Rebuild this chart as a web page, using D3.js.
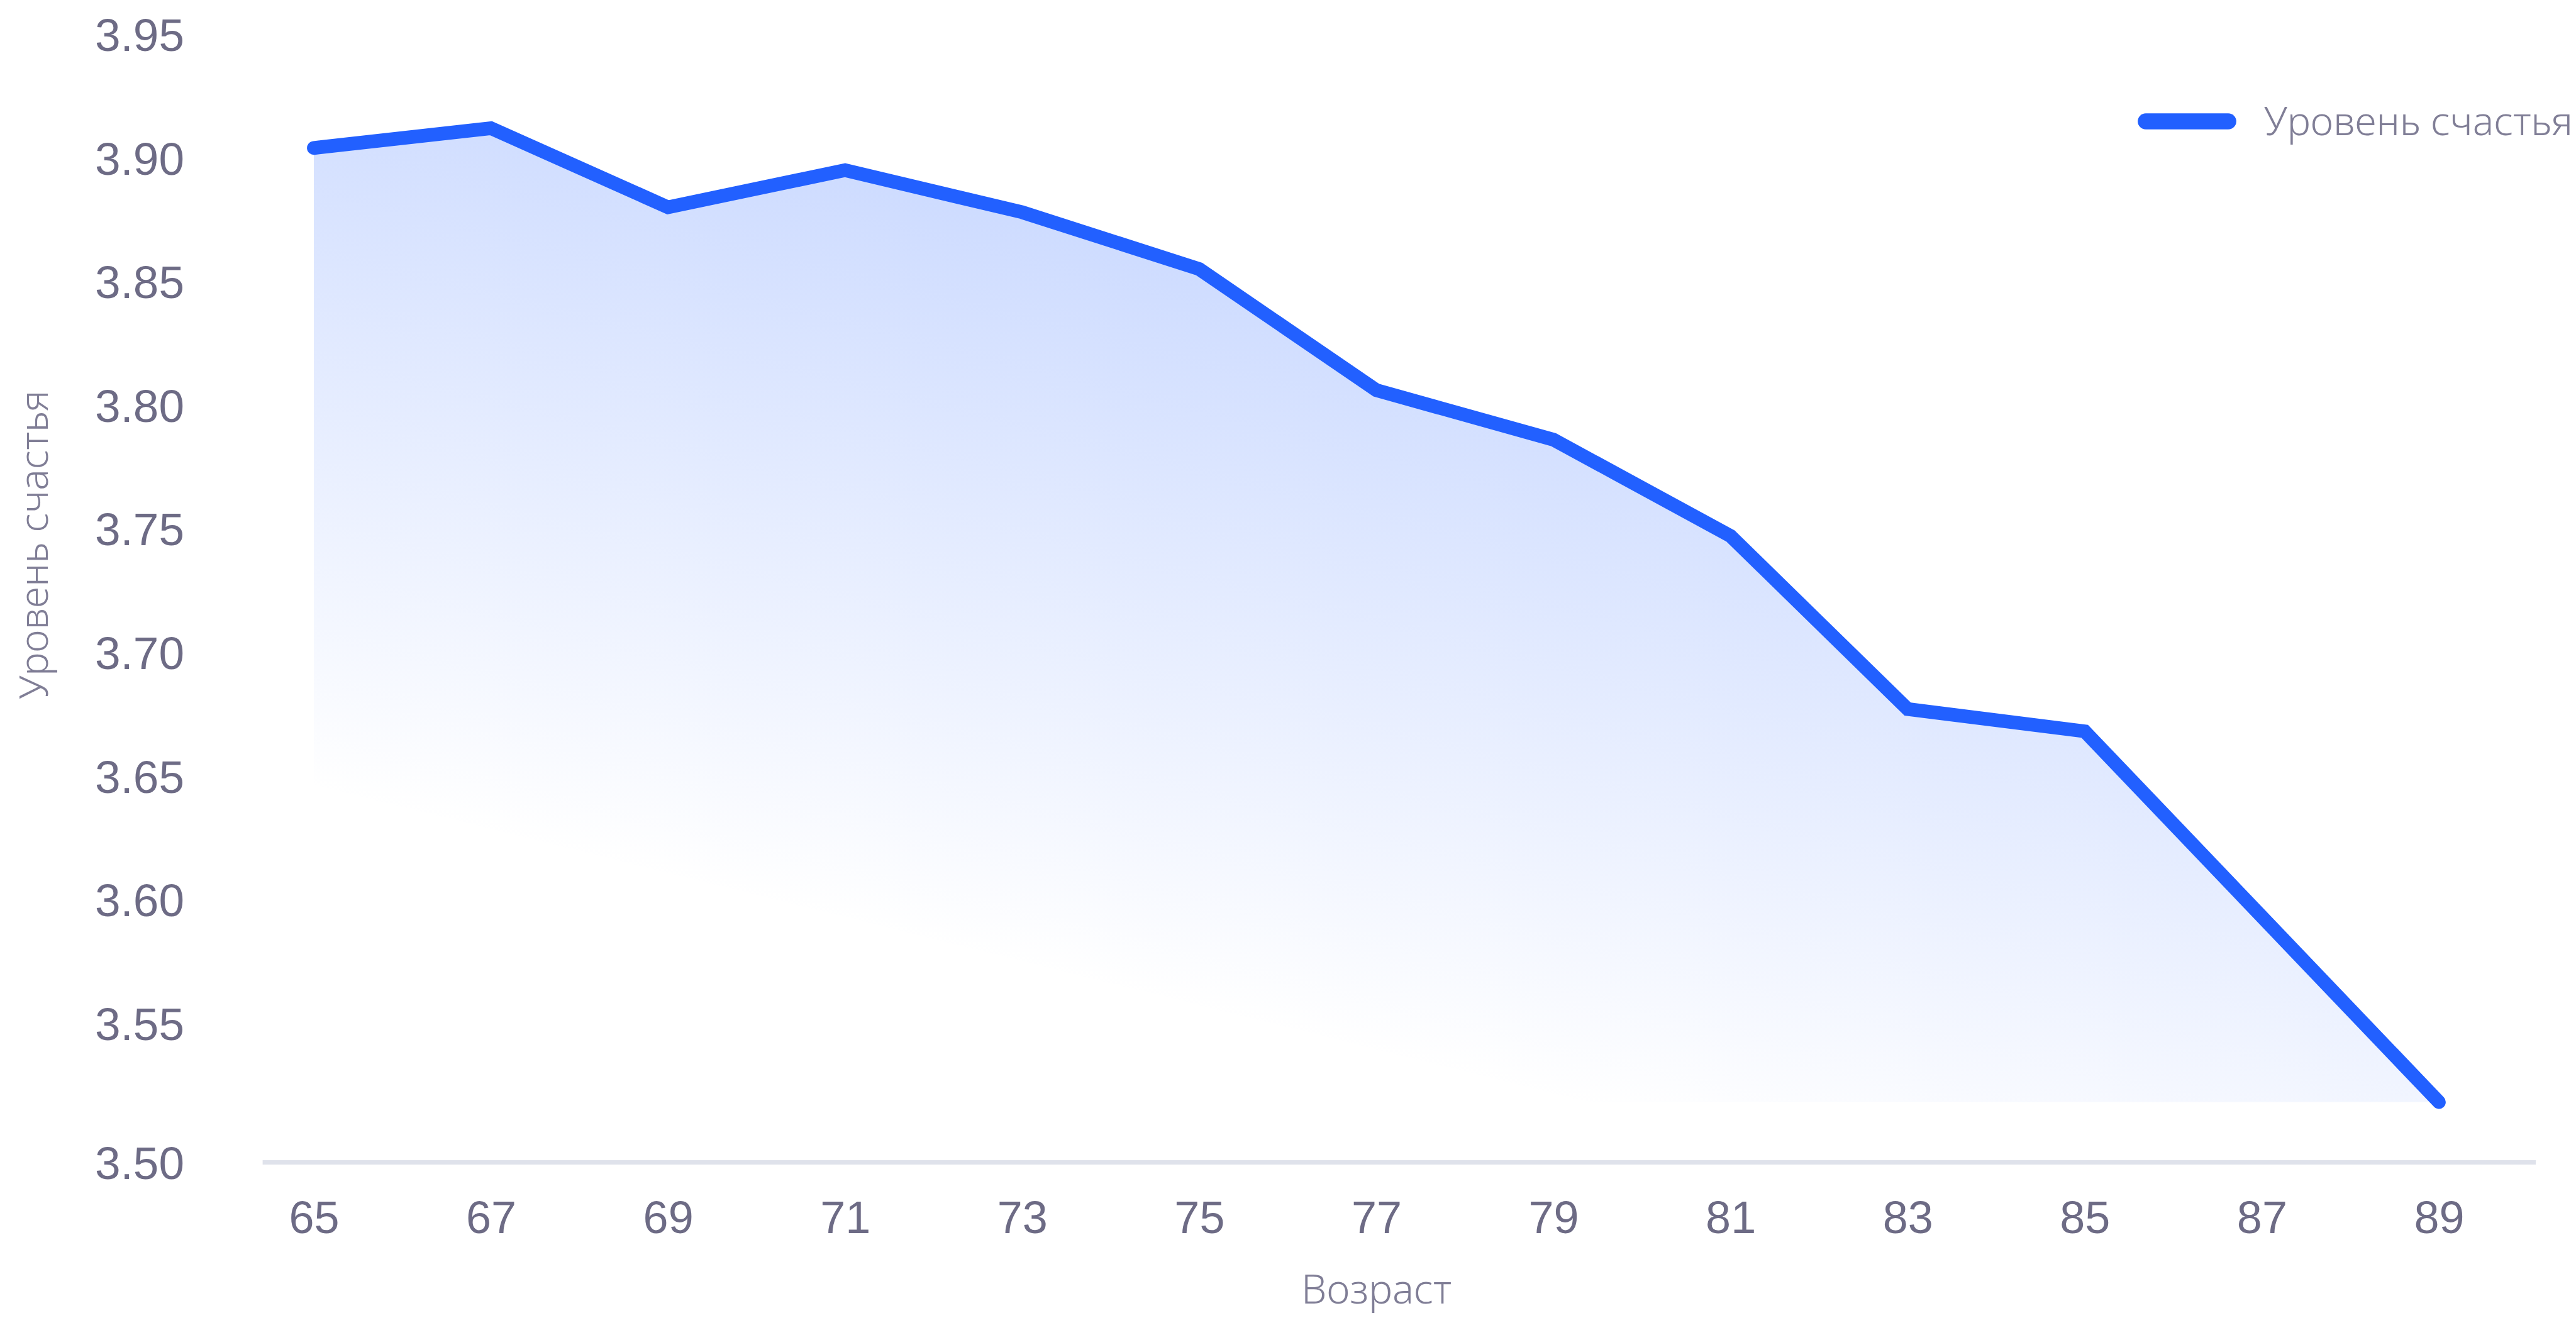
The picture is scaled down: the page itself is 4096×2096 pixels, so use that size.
<!DOCTYPE html>
<html>
<head>
<meta charset="utf-8">
<script src="https://cdn.jsdelivr.net/npm/d3@7"></script>
<style>
  html, body { margin: 0; padding: 0; background: #ffffff; overflow: hidden; }
  svg { display: block; }
</style>
</head>
<body>
<svg id="chart" width="4096" height="2096"></svg>
<script>
// ---- Data ----
const ages = [65, 67, 69, 71, 73, 75, 77, 79, 81, 83, 85, 87, 89];
const happiness = [3.904, 3.912, 3.880, 3.895, 3.878, 3.855, 3.806, 3.786, 3.747, 3.677, 3.668, 3.593, 3.518];
const xTickValues = [65, 67, 69, 71, 73, 75, 77, 79, 81, 83, 85, 87, 89];
const yTickValues = [3.50, 3.55, 3.60, 3.65, 3.70, 3.75, 3.80, 3.85, 3.90, 3.95];
const yTickLabels = ["3.50", "3.55", "3.60", "3.65", "3.70", "3.75", "3.80", "3.85", "3.90", "3.95"];
const seriesName = "Уровень счастья";
const xTitle = "Возраст";
const yTitle = "Уровень счастья";

// ---- Layout / style ----
const W = 4096, H = 2096;
const lineColor = "#2260ff";
const textColor = "#6d6b85";
const titleColor = "#807e96";
const axisColor = "#dfe2eb";
const yAxisMin = 3.4936;   // value at the axis baseline

const svg = d3.select("#chart");

const x = d3.scaleLinear().domain([d3.min(ages), d3.max(ages)]).range([499, 3878]);
const y = d3.scaleLinear().domain([yAxisMin, 3.95]).range([1848.5, 54.5]);

const data = ages.map((a, i) => ({ age: a, v: happiness[i] }));

// gradient
const defs = svg.append("defs");
const grad = defs.append("linearGradient")
  .attr("id", "fillGrad")
  .attr("gradientUnits", "userSpaceOnUse")
  .attr("x1", 1674).attr("y1", 1551)
  .attr("x2", 1976).attr("y2", 338.5);
grad.append("stop").attr("offset", 0).attr("stop-color", lineColor).attr("stop-opacity", 0);
grad.append("stop").attr("offset", 1).attr("stop-color", lineColor).attr("stop-opacity", 0.24);

// area
const base = y(d3.min(happiness));
const area = d3.area()
  .x(d => x(d.age))
  .y0(base)
  .y1(d => y(d.v));
svg.append("path")
  .datum(data)
  .attr("d", area)
  .attr("fill", "url(#fillGrad)");

// axis line
svg.append("line")
  .attr("x1", 417.6).attr("x2", 4032)
  .attr("y1", y.range()[0]).attr("y2", y.range()[0])
  .attr("stroke", axisColor)
  .attr("stroke-width", 7);

// x axis
const xAxis = d3.axisBottom(x)
  .tickValues(xTickValues)
  .tickSize(0)
  .tickPadding(61)
  .tickFormat(d3.format("d"));
const gx = svg.append("g")
  .attr("transform", `translate(0,${y.range()[0]})`)
  .call(xAxis);
gx.select(".domain").remove();
gx.selectAll("text")
  .attr("font-family", "'Liberation Sans', Arial, sans-serif")
  .attr("font-size", 72)
  .attr("fill", textColor);

// y axis (lowest label sits on the axis baseline)
const yTickPos = yTickValues.map((v, i) => (i === 0 ? yAxisMin : v));
const yAxis = d3.axisLeft(y)
  .tickValues(yTickPos)
  .tickSize(0)
  .tickPadding(0)
  .tickFormat((d, i) => yTickLabels[i]);
const gy = svg.append("g")
  .attr("transform", "translate(293,0)")
  .call(yAxis);
gy.select(".domain").remove();
gy.selectAll("text")
  .attr("font-family", "'Liberation Sans', Arial, sans-serif")
  .attr("font-size", 73)
  .attr("dy", "0.36em")
  .attr("fill", textColor);

// line
const line = d3.line()
  .x(d => x(d.age))
  .y(d => y(d.v));
svg.append("path")
  .datum(data)
  .attr("d", line)
  .attr("fill", "none")
  .attr("stroke", lineColor)
  .attr("stroke-width", 21.8)
  .attr("stroke-linecap", "round")
  .attr("stroke-linejoin", "miter");

// axis titles
svg.append("text")
  .attr("x", (x.range()[0] + x.range()[1]) / 2)
  .attr("y", 2073)
  .attr("text-anchor", "middle")
  .attr("font-family", "'Noto Sans', sans-serif")
  .attr("font-weight", 300)
  .attr("font-size", 64)
  .attr("fill", titleColor)
  .text(xTitle);

svg.append("text")
  .attr("transform", "translate(76,866) rotate(-90)")
  .attr("text-anchor", "middle")
  .attr("font-family", "'Noto Sans', sans-serif")
  .attr("font-weight", 300)
  .attr("font-size", 63)
  .attr("fill", titleColor)
  .text(yTitle);

// legend
const lg = svg.append("g");
lg.append("line")
  .attr("x1", 3412).attr("x2", 3543)
  .attr("y1", 193).attr("y2", 193)
  .attr("stroke", lineColor)
  .attr("stroke-width", 25.7)
  .attr("stroke-linecap", "round");
lg.append("text")
  .attr("x", 3600)
  .attr("y", 215)
  .attr("font-family", "'Noto Sans', sans-serif")
  .attr("font-weight", 300)
  .attr("font-size", 63)
  .attr("fill", titleColor)
  .text(seriesName);
</script>
</body>
</html>
